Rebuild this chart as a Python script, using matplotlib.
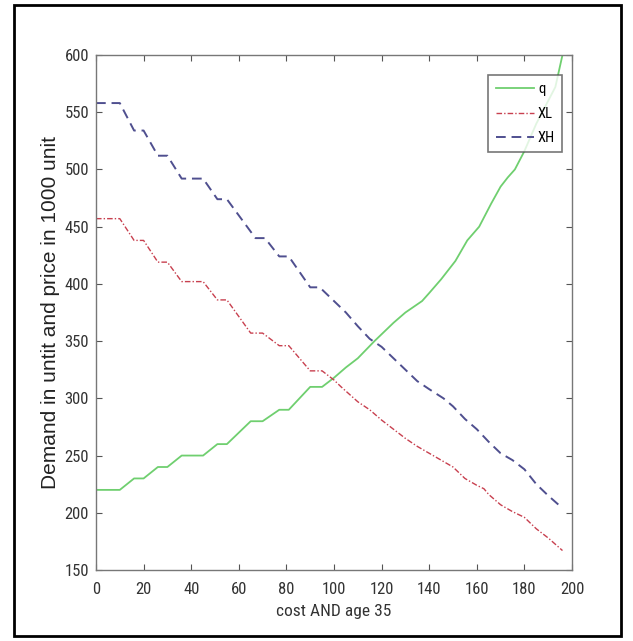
import matplotlib
matplotlib.use("Agg")
import matplotlib.pyplot as plt
from matplotlib.patches import Rectangle
from matplotlib import font_manager

# ---- data ----
x_q = [0, 10, 16, 20, 26, 30, 36, 45, 51, 55, 65, 70, 77, 81, 90, 95, 100, 105, 110,
       117, 120, 125, 130, 137, 140, 145, 151, 156, 161, 166, 170, 173, 176, 180, 185,
       190, 193, 196]
q = [220, 220, 230, 230, 240, 240, 250, 250, 260, 260, 280, 280, 290, 290, 310, 310,
     318, 327, 335, 350, 356, 366, 375, 385, 392, 404, 420, 438, 450, 470, 485, 493,
     500, 516, 540, 560, 572, 600]

x_xl = [0, 10, 16, 20, 26, 30, 36, 45, 51, 55, 65, 70, 77, 81, 90, 95, 100, 103, 110,
        115, 120, 125, 130, 135, 140, 145, 150, 155, 160, 163, 165, 170, 175, 180, 185,
        190, 196]
xl = [457, 457, 438, 438, 419, 419, 402, 402, 386, 386, 357, 357, 346, 346, 324, 324,
      316, 310, 297, 290, 281, 273, 265, 258, 252, 246, 240, 230, 224, 221, 216, 207,
      201, 196, 186, 178, 167]

x_xh = [0, 10, 16, 20, 26, 30, 36, 45, 51, 55, 67, 71, 77, 81, 90, 94, 100, 105, 110,
        115, 120, 125, 130, 135, 140, 146, 150, 155, 160, 165, 170, 175, 180, 185, 190,
        196]
xh = [558, 558, 534, 534, 512, 512, 492, 492, 474, 474, 440, 440, 424, 424, 397, 397,
      385, 375, 363, 352, 345, 335, 325, 315, 308, 300, 293, 282, 273, 262, 252, 246,
      238, 225, 215, 204]

xticks = list(range(0, 201, 20))
yticks = list(range(150, 601, 50))

available = {f.name for f in font_manager.fontManager.ttflist}
narrow = [f for f in ['Liberation Sans Narrow', 'Roboto Condensed', 'DejaVu Sans Condensed',
                      'Open Sans Condensed'] if f in available]
base = narrow + ['Liberation Sans', 'DejaVu Sans']
plt.rcParams['font.family'] = base

fig = plt.figure(figsize=(6.33, 6.41), dpi=100)
ax = fig.add_axes([96/633, 1-570/641, 476/633, 515/641])

ax.plot(x_q, q, color='#6fcf6f', lw=1.3, ls='-', label='q')
ax.plot(x_xl, xl, color='#c8404f', lw=1.0, ls='-.', dashes=(4, 1.5, 1, 1.5), label='XL')
ax.plot(x_xh, xh, color='#4f4f8f', lw=1.4, ls='--', dashes=(5, 3), label='XH')

ax.set_xlim(0, 200)
ax.set_ylim(150, 600)
ax.set_xticks(xticks)
ax.set_yticks(yticks)
ax.tick_params(direction='in', length=4, width=0.8, top=True, right=True,
               colors='#555555', labelcolor='#333333', labelsize=12)
ax.tick_params(axis='x', pad=9)
ax.tick_params(axis='y', pad=5)
for s in ax.spines.values():
    s.set_color('#777777')
    s.set_linewidth(1.0)

ax.set_xlabel('cost AND age 35', fontsize=12.5, color='#333333', labelpad=5)
ax.set_ylabel('Demand in untit and price in 1000 unit', fontsize=15, color='#222222',
              family=['Liberation Sans', 'DejaVu Sans'])
ax.yaxis.set_label_coords(-0.075, 0.5)

leg = ax.legend(loc='upper right', bbox_to_anchor=(0.995, 0.975), fontsize=10.5,
                frameon=True, fancybox=False, handlelength=2.6, handletextpad=0.3,
                borderpad=0.5, labelspacing=0.7)
leg.get_frame().set_edgecolor('#555555')
leg.get_frame().set_linewidth(1.2)

fig.patches.append(Rectangle((14/633, 1-636/641), 607/633, 631/641,
                             transform=fig.transFigure, fill=False,
                             edgecolor='black', linewidth=2))

fig.savefig('out.png', dpi=100)
